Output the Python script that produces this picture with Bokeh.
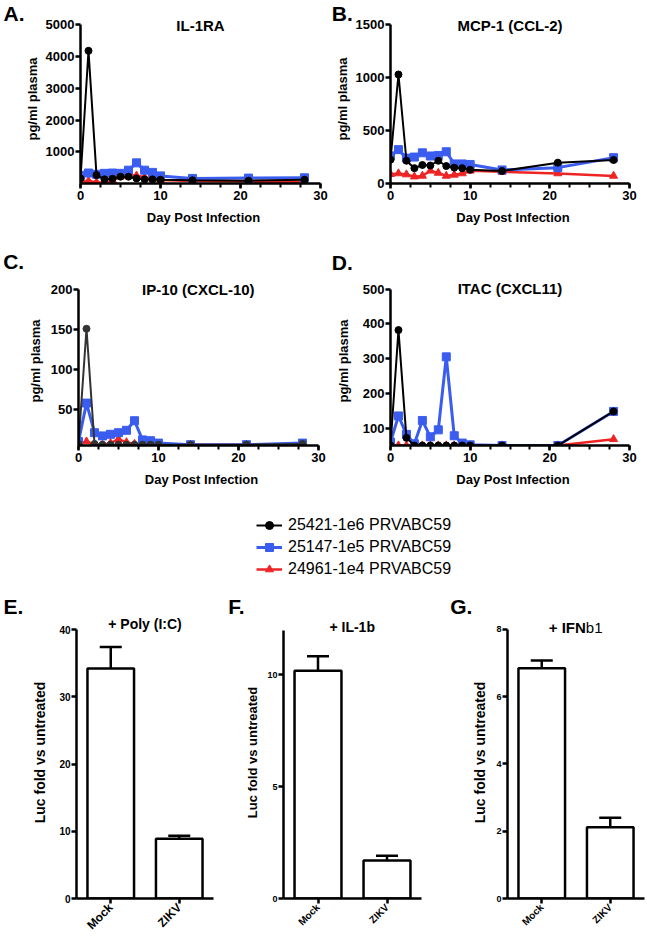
import math
from bokeh.plotting import figure
from bokeh.layouts import column, row
from bokeh.models import (Range1d, FactorRange, FixedTicker, SingleIntervalTicker, Label, Title,
                          Legend, LegendItem, ColumnDataSource, Whisker, TeeHead)
from bokeh.embed import file_html
from bokeh.resources import INLINE

FONT = "Liberation Sans"
BLACK = "#000000"
BLUE = "#3a5df0"
RED = "#ee2424"

# ---------------- data ----------------
days = [0, 1, 2, 3, 4, 5, 6, 7, 8, 9, 10, 14, 21, 28]
series_names = ["25421-1e6 PRVABC59", "25147-1e5 PRVABC59", "24961-1e4 PRVABC59"]

il1ra_black = [160, 4180, 265, 130, 150, 215, 215, 160, 130, 130, 120, 100, 90, 120]
il1ra_blue = [260, 330, 290, 320, 330, 320, 420, 650, 420, 350, 240, 160, 170, 180]
il1ra_red = [70, 80, 40, 20, 100, 220, 260, 250, 200, 150, 110, 80, 60, 50]

mcp1_black = [225, 1030, 215, 145, 175, 170, 215, 165, 150, 145, 130, 118, 197, 222]
mcp1_blue = [260, 320, 240, 250, 290, 260, 265, 300, 185, 185, 180, 128, 150, 244]
mcp1_red = [88, 95, 85, 65, 72, 120, 100, 72, 82, 95, 120, 110, 95, 72]

ip10_black = [7, 151, 7, 6, 6, 6, 6, 6, 6, 6, 6, 6, 6, 7]
ip10_blue = [10, 58, 21, 17, 19, 21, 24, 36, 12, 11, 8, 6, 6, 8]
ip10_red = [7, 10, 6, 6, 8, 13, 9, 7, 6, 6, 6, 6, 6, 6]

itac_black = [50, 382, 72, 50, 50, 50, 50, 50, 50, 50, 50, 50, 50, 148]
itac_blue = [60, 135, 82, 55, 122, 75, 95, 305, 78, 57, 52, 50, 50, 148]
itac_red = [50, 50, 50, 50, 50, 50, 50, 50, 50, 50, 50, 50, 50, 68]

bar_categories = ["Mock", "ZIKV"]
polyic_mean = [34.2, 8.9]
polyic_sem = [3.2, 0.45]
il1b_mean = [10.19, 1.70]
il1b_sem = [0.64, 0.21]
ifnb1_mean = [6.84, 2.12]
ifnb1_sem = [0.23, 0.28]

LETTER_PX = 21


# ---------------- helpers ----------------
def base_fig(w, h, bl, br, bt, bb, **kw):
    p = figure(width=w, height=h, toolbar_location=None, output_backend="svg",
               min_border_left=int(round(bl)), min_border_right=int(round(br)),
               min_border_top=int(round(bt)), min_border_bottom=int(round(bb)), **kw)
    p.outline_line_color = None
    p.background_fill_color = "white"
    p.border_fill_color = "white"
    p.xgrid.visible = False
    p.ygrid.visible = False
    return p


def style_axis(ax, tick_px, label_px):
    ax.axis_line_width = 2.5
    ax.axis_line_color = "black"
    ax.major_tick_line_width = 2.5
    ax.major_tick_line_color = "black"
    ax.major_tick_out = 5
    ax.major_tick_in = 0
    ax.minor_tick_line_width = 2
    ax.minor_tick_line_color = "black"
    ax.minor_tick_out = 4
    ax.minor_tick_in = 0
    ax.major_label_text_font = FONT
    ax.major_label_text_font_style = "bold"
    ax.major_label_text_font_size = tick_px
    ax.major_label_text_color = "black"
    ax.axis_label_text_font = FONT
    ax.axis_label_text_font_style = "bold"
    ax.axis_label_text_font_size = label_px
    ax.axis_label_text_color = "black"


def add_text(p, fl, fb, x, y, text, size, style="bold", align="left", baseline="middle"):
    # page coordinates -> frame-relative screen units
    p.add_layout(Label(x=x - fl, y=fb - y, x_units="screen", y_units="screen", text=text,
                       text_font=FONT, text_font_size=size, text_font_style=style,
                       text_align=align, text_baseline=baseline, text_color="black"))


def add_letter(p, fl, ft, letter, lx, cap_bottom):
    text_bottom = cap_bottom + 0.212 * LETTER_PX - 2
    so = 2 * (ft - text_bottom)
    t = Title(text=letter, align="left", vertical_align="bottom", offset=lx - fl,
              text_font=FONT, text_font_size=f"{LETTER_PX}px", text_font_style="bold",
              text_color="black")
    try:
        t.standoff = so
    except Exception:
        t.standoff = 0
    p.add_layout(t, "above")


def line_panel(g, title, letter, black, blue, red, y_start, y_top, yticks, ylab_standoff,
               black_color=BLACK):
    ext_r = 6
    fl = g["ax_x"]
    fr = g["x30"] + ext_r
    fb = g["ax_y"]
    ft = g["ft"]
    dpp = 30.0 / (g["x30"] - g["ax_x"])
    vpp = (y_top - y_start) / (g["ax_y"] - g["top_y"])
    xr = Range1d(0, 30 + ext_r * dpp)
    yr = Range1d(y_start, y_top + (g["top_y"] - ft) * vpp)
    p = base_fig(g["w"], g["h"], fl - g["ox"], g["ox"] + g["w"] - fr, ft - g["oy"],
                 g["oy"] + g["h"] - fb, x_range=xr, y_range=yr)

    p.line(days, red, line_color=RED, line_width=2.5)
    p.scatter(days, red, marker="triangle", size=8, color=RED)
    p.line(days, blue, line_color=BLUE, line_width=3)
    p.scatter(days, blue, marker="square", size=8, color=BLUE)
    p.line(days, black, line_color=black_color, line_width=2)
    p.scatter(days, black, marker="circle", size=7, color=black_color)

    p.xaxis.ticker = SingleIntervalTicker(interval=10, num_minor_ticks=4)
    p.yaxis.ticker = FixedTicker(ticks=yticks, minor_ticks=[])
    style_axis(p.xaxis[0], "13px", "13px")
    style_axis(p.yaxis[0], "13px", "13px")
    p.yaxis.minor_tick_line_color = None
    p.xaxis.bounds = (0, 30)
    p.yaxis.bounds = (y_start, y_top)
    p.xaxis.axis_label = "Day Post Infection"
    p.yaxis.axis_label = "pg/ml plasma"
    p.xaxis.major_label_standoff = 2
    p.xaxis.axis_label_standoff = 7
    p.yaxis.major_label_standoff = 1
    p.yaxis.axis_label_standoff = ylab_standoff

    add_text(p, fl, fb, (g["ax_x"] + g["x30"]) / 2, g["title_cy"], title, "15px", align="center")
    add_letter(p, fl, ft, letter, g["lx"], g["lcap"])
    return p


def bar_panel(g, letter, means, sems, y_top, yticks, tick_px, cat_px, ylab_px, ylab_standoff):
    fl, fr, fb, ft = g["ax_x"], g["x_right"], g["ax_y"], g["ft"]
    vpp = y_top / (g["ax_y"] - g["top_y"])
    yr = Range1d(0, y_top + (g["top_y"] - ft) * vpp)
    p = base_fig(g["w"], g["h"], fl - g["ox"], g["ox"] + g["w"] - fr, ft - g["oy"],
                 g["oy"] + g["h"] - fb,
                 x_range=FactorRange(*bar_categories, range_padding=0), y_range=yr)
    upper = [m + s for m, s in zip(means, sems)]
    src = ColumnDataSource(dict(x=bar_categories, lower=means, upper=upper))
    p.add_layout(Whisker(base="x", lower="lower", upper="upper", source=src,
                         dimension="height", lower_head=None,
                         upper_head=TeeHead(size=22, line_width=2.5, line_color="black"),
                         line_width=2.5, line_color="black"))
    p.vbar(x=bar_categories, top=means, width=0.68, fill_color="white",
           line_color="black", line_width=2.5)

    p.yaxis.ticker = FixedTicker(ticks=yticks, minor_ticks=[])
    style_axis(p.xaxis[0], cat_px, "13px")
    style_axis(p.yaxis[0], tick_px, ylab_px)
    p.yaxis.minor_tick_line_color = None
    p.yaxis.bounds = (0, y_top)
    p.xaxis.major_label_orientation = math.pi / 4
    p.xaxis.major_label_standoff = 2
    p.yaxis.major_label_standoff = 1
    p.yaxis.axis_label = "Luc fold vs untreated"
    p.yaxis.axis_label_standoff = ylab_standoff
    add_letter(p, fl, ft, letter, g["lx"], g["lcap"])
    return p, fl, fb, fr - fl


# ---------------- geometry (page pixels) ----------------
gA = dict(ox=0, oy=0, w=330, h=230, ax_x=80, x30=320, ax_y=183.3, top_y=24.3, ft=14,
          lx=3, lcap=22, title_cy=25)
gB = dict(ox=330, oy=0, w=317, h=230, ax_x=389.7, x30=628.7, ax_y=183.3, top_y=24.3, ft=14,
          lx=331, lcap=22, title_cy=25)
gC = dict(ox=0, oy=230, w=330, h=262, ax_x=78.3, x30=318, ax_y=447.7, top_y=289.3, ft=276,
          lx=3, lcap=270, title_cy=291.7)
gD = dict(ox=330, oy=230, w=317, h=262, ax_x=389.7, x30=628.7, ax_y=445, top_y=286.7, ft=274,
          lx=331, lcap=269, title_cy=288)
gE = dict(ox=0, oy=590, w=220, h=350, ax_x=76, x_right=213, ax_y=899.3, top_y=627.3, ft=604,
          lx=3, lcap=613)
gF = dict(ox=220, oy=590, w=210, h=350, ax_x=283.3, x_right=420.7, ax_y=901.7, top_y=630, ft=606,
          lx=228, lcap=615)
gG = dict(ox=430, oy=590, w=217, h=350, ax_x=507.3, x_right=644, ax_y=901, top_y=629, ft=606,
          lx=450, lcap=615)

pA = line_panel(gA, "IL-1RA", "A.", il1ra_black, il1ra_blue, il1ra_red, 0, 5000,
                [1000, 2000, 3000, 4000, 5000], 3)
pB = line_panel(gB, "MCP-1 (CCL-2)", "B.", mcp1_black, mcp1_blue, mcp1_red, 0, 1500,
                [0, 500, 1000, 1500], 3)
pC = line_panel(gC, "IP-10 (CXCL-10)", "C.", ip10_black, ip10_blue, ip10_red, 5, 200,
                [50, 100, 150, 200], 5, black_color="#333333")
pD = line_panel(gD, "ITAC (CXCL11)", "D.", itac_black, itac_blue, itac_red, 50, 500,
                [100, 200, 300, 400, 500], 9)

# ---------------- legend ----------------
lp = figure(width=647, height=98, x_range=Range1d(100, 101), y_range=Range1d(0, 1),
            toolbar_location=None, output_backend="svg", min_border=0,
            x_axis_type=None, y_axis_type=None)
lp.outline_line_color = None
items = []
for name, ys, col, mk, lw, sz in zip(series_names, [il1ra_black, il1ra_blue, il1ra_red],
                                     [BLACK, BLUE, RED], ["circle", "square", "triangle"],
                                     [2, 3, 2.5], [7, 8, 8]):
    r1 = lp.line(days, ys, line_color=col, line_width=lw)
    r2 = lp.scatter(days, ys, marker=mk, size=sz, color=col)
    items.append(LegendItem(label=name, renderers=[r1, r2]))
leg = Legend(items=items, location=(256, 11), label_text_font=FONT, label_text_font_size="16px",
             label_text_color="black", glyph_width=26, glyph_height=20, label_height=20,
             label_standoff=6, spacing=2, padding=0, margin=0, border_line_color=None,
             background_fill_alpha=0)
lp.add_layout(leg)

# ---------------- row 3 ----------------
pE, flE, fbE, fwE = bar_panel(gE, "E.", polyic_mean, polyic_sem, 40, [0, 10, 20, 30, 40],
                              "10px", "12px", "14px", 8)
add_text(pE, flE, fbE, flE + fwE / 2, 625, "+ Poly (I:C)", "14px", align="center")

pF, flF, fbF, fwF = bar_panel(gF, "F.", il1b_mean, il1b_sem, 12, [0, 5, 10],
                              "9px", "10px", "13px", 4)
add_text(pF, flF, fbF, flF + fwF / 2, 630, "+ IL-1b", "14px", align="center")

pG, flG, fbG, fwG = bar_panel(gG, "G.", ifnb1_mean, ifnb1_sem, 8, [0, 2, 4, 6, 8],
                              "9px", "10px", "14px", 5)
split = flG + fwG / 2 + 10
add_text(pG, flG, fbG, split, 630, "+ IFN", "15px", align="right")
add_text(pG, flG, fbG, split, 630, "b1", "15px", style="normal", align="left")

layout = column(row(pA, pB), row(pC, pD), lp, row(pE, pF, pG), spacing=0)

open("out.html", "w").write(file_html(layout, INLINE))
